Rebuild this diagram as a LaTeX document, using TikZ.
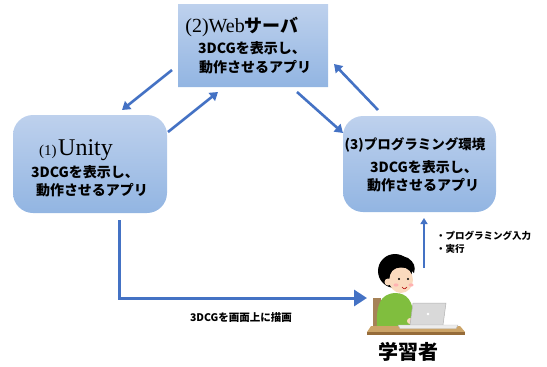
\documentclass[tikz,border=0pt]{standalone}
\usepackage{fontspec}
\setmainfont{Liberation Serif}
\newfontfamily\jp{Noto Sans CJK JP}
\usetikzlibrary{shapes.misc,arrows.meta}
\definecolor{boxtop}{RGB}{190,209,237}
\definecolor{boxbot}{RGB}{146,181,226}
\definecolor{flow}{RGB}{68,114,196}
\definecolor{skin}{RGB}{250,218,190}
\definecolor{shirt}{RGB}{128,190,62}
\definecolor{desk}{RGB}{204,164,104}
\definecolor{deskdark}{RGB}{150,108,58}

\begin{document}
\begin{tikzpicture}[x=1pt, y=-1pt,
  panel/.style={top color=boxtop, bottom color=boxbot, draw=none, inner sep=0pt},
  flowline/.style={draw=flow, line width=2.6pt, -{Triangle[width=10pt,length=8pt]}},
  body/.style={font=\jp\bfseries\fontsize{14}{16}\selectfont, inner sep=0pt},
  note/.style={font=\jp\bfseries\fontsize{9.5}{11}\selectfont, anchor=west, inner sep=0pt}]

\useasboundingbox (0,0) rectangle (547,367);

% Boxes
\node[panel, chamfered rectangle, chamfered rectangle corners={north west,north east},
  chamfered rectangle xsep=14pt, chamfered rectangle ysep=16pt,
  minimum width=150pt, minimum height=83pt] (web) at (253,45.5) {};
\node[panel, rounded corners=20pt, minimum width=154pt, minimum height=98pt] (unity) at (90,164) {};
\node[panel, rounded corners=20pt, minimum width=153pt, minimum height=96pt] (prog) at (419.5,164) {};

% Box texts
\node[inner sep=0pt] (webtitle) at (242,27) {\fontsize{20}{22}\selectfont(2)Web{\jp\bfseries\fontsize{18}{20}\selectfont サーバ}};
\node[body] (webtext1) at (252,48) {3DCGを表示し、};
\node[body] (webtext2) at (255,67) {動作させるアプリ};

\node[inner sep=0pt] (unitytitle) at (76,150) {{\fontsize{15}{17}\selectfont(1)}\,{\fontsize{24}{26}\selectfont Unity}};
\node[body] (unitytext1) at (85,172) {3DCGを表示し、};
\node[body] (unitytext2) at (92,190) {動作させるアプリ};

\node[body, font=\jp\bfseries\fontsize{13.5}{15}\selectfont] (progtitle) at (415,145) {(3)プログラミング環境};
\node[body] (progtext1) at (424,167) {3DCGを表示し、};
\node[body] (progtext2) at (423,185) {動作させるアプリ};

% Arrows between the apps
\coordinate (webout) at (172,70);   \coordinate (unityin) at (122,110);
\coordinate (unityout) at (168,132); \coordinate (webin) at (218,92);
\coordinate (webdown) at (297,92);  \coordinate (progin) at (343,133);
\coordinate (progout) at (378,110); \coordinate (webback) at (334,64);
\draw[flowline] (webout) -- (unityin);
\draw[flowline] (unityout) -- (webin);
\draw[flowline] (webdown) -- (progin);
\draw[flowline] (progout) -- (webback);

% Drawing on screen
\coordinate (screenout) at (119,220);
\coordinate (learnerin) at (367,298);
\draw[flowline, line width=3pt, -{Triangle[width=16pt,length=13pt]}] (screenout) |- (learnerin);
\node[body, font=\jp\bfseries\fontsize{10.5}{12}\selectfont] (drawlabel) at (241,318) {3DCGを画面上に描画};

% Input from the learner
\coordinate (learnerout) at (424,268);
\coordinate (progbottom) at (424,218);
\draw[flowline, line width=2pt, -{Triangle[width=7pt,length=6pt]}] (learnerout) -- (progbottom);
\node[note] (inputlabel) at (436,236) {・プログラミング入力};
\node[note] (runlabel) at (436,249) {・実行};

% Learner at the desk
\fill[deskdark!85] (373,298) rectangle (381,327);
\fill[shirt] (377,327) .. controls (376,305) and (380,294) .. (395,293)
  .. controls (408,293) and (413,302) .. (414,318) -- (414,327) -- cycle;
\fill[black] (395,271) circle (17pt);
\fill[skin] (401,280) ellipse (12pt and 13pt);
\fill[black] (383,278) .. controls (380,260) and (396,252) .. (408,258)
  .. controls (414,262) and (416,267) .. (414,273)
  .. controls (408,266) and (397,266) .. (391,271) -- (388,283) -- cycle;
\fill[skin] (388,282) circle (3.5pt);
\fill (399,279) circle (1.1pt);
\fill (408,279) circle (1.1pt);
\fill[red!30] (396,285) ellipse (2.5pt and 1.6pt);
\fill[red!30] (411,285) ellipse (2.5pt and 1.6pt);
\draw[red!70!black, line width=0.6pt] (402,287) .. controls (404,289.5) and (406,289.5) .. (407,287);
\fill[skin] (410,321) circle (3pt);
\fill[desk] (371,326) -- (460,326) -- (465,332) -- (367,332) -- cycle;
\fill[deskdark] (367,332) rectangle (465,335);
\filldraw[fill=gray!30, draw=gray!60, line width=0.5pt] (413,303) -- (446,303) -- (443,325) -- (410,325) -- cycle;
\fill[white] (428,314) circle (1.4pt);
\filldraw[fill=gray!15, draw=gray!50, line width=0.4pt] (398,325) -- (458,325) -- (456,328.5) -- (400,328.5) -- cycle;
\node[inner sep=0pt, font=\jp\bfseries\fontsize{20}{22}\selectfont] (learner) at (408,352) {学習者};

\end{tikzpicture}
\end{document}
